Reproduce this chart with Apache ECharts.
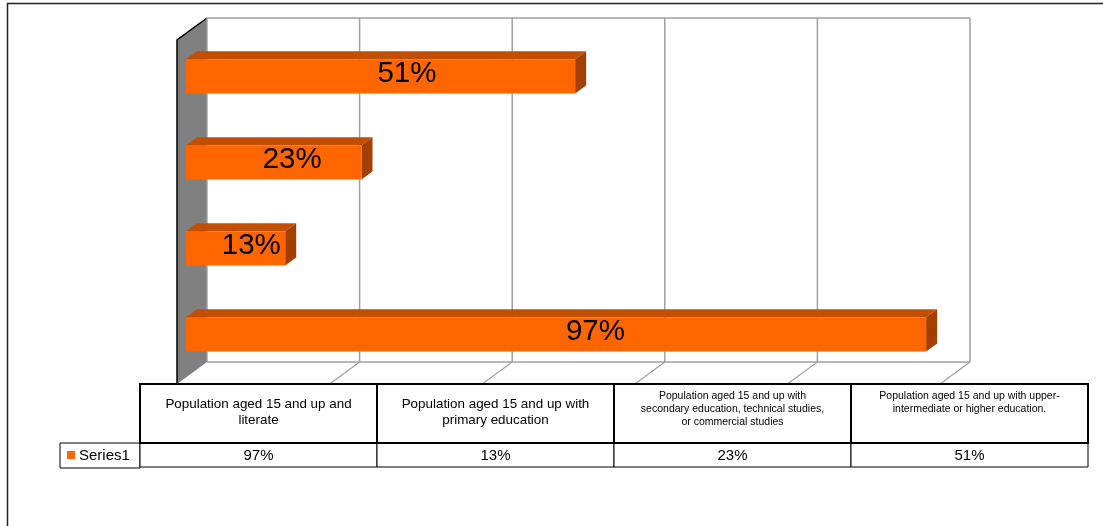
<!DOCTYPE html>
<html>
<head>
<meta charset="utf-8">
<script src="https://cdn.jsdelivr.net/npm/echarts@6/dist/echarts.min.js"></script>
<style>
html,body{margin:0;padding:0;background:#fff;}
#chart{width:1103px;height:526px;}
</style>
</head>
<body>
<div id="chart"></div>
<script>
// ---- data ----
const categories = [
  'Population aged 15 and up and\nliterate',
  'Population aged 15 and up with\nprimary education',
  'Population aged 15 and up with\nsecondary education, technical studies,\nor commercial studies',
  'Population aged 15 and up with upper-\nintermediate or higher education.'
];
const seriesName = 'Series1';
const values = [97, 13, 23, 51];
const ticks = [0, 20, 40, 60, 80, 100];

// ---- style / layout ----
const FONT = "'Liberation Sans', Arial, sans-serif";
const DX = 30, DY = -22;           // full depth offset of the 3D box
const F1 = 0.3, F2 = 0.667;        // bar depth fraction front/back
const C_FRONT = '#FF6600', C_TOP = '#C24F00', C_SIDE = '#A33F00';
const C_WALL = '#808080', C_GRID = '#A0A0A0';
const TBL = {labelX: 60, x: 140, colW: 237, hTop: 384, hBot: 443, vBot: 467};

const chart = echarts.init(document.getElementById('chart'), null, {renderer: 'canvas'});

function renderFrame(params, api) {
  const cs = params.coordSys;
  const top = cs.y, bot = cs.y + cs.height;
  const x = api.coord([api.value(0), 0])[0];
  const children = [];
  if (params.dataIndex === 0) {
    const xEnd = api.coord([ticks[ticks.length - 1], 0])[0];
    children.push({type: 'polygon', shape: {points: [[x, top], [x + DX, top + DY], [x + DX, bot + DY], [x, bot]]},
      style: {fill: C_WALL, stroke: null}});
    children.push({type: 'line', shape: {x1: x + DX, y1: top + DY, x2: xEnd + DX, y2: top + DY}, style: {stroke: C_GRID, lineWidth: 1.5}});
    children.push({type: 'line', shape: {x1: x + DX, y1: bot + DY, x2: xEnd + DX, y2: bot + DY}, style: {stroke: C_GRID, lineWidth: 1.5}});
    children.push({type: 'polyline', shape: {points: [[x, bot], [x, top], [x + DX, top + DY]]}, style: {stroke: '#000', lineWidth: 1.5, fill: null}});
  }
  children.push({type: 'line', shape: {x1: x + DX, y1: top + DY, x2: x + DX, y2: bot + DY}, style: {stroke: C_GRID, lineWidth: 1.5}});
  if (params.dataIndex !== 0) {
    children.push({type: 'line', shape: {x1: x + DX, y1: bot + DY, x2: x, y2: bot}, style: {stroke: C_GRID, lineWidth: 1.2}});
  }
  return {type: 'group', children};
}

function renderBar(params, api) {
  const v = api.value(0), c = api.value(1);
  const p0 = api.coord([0, c]);
  const p1 = api.coord([v, c]);
  const band = api.size([0, 1])[1];
  const h = band * 0.4;
  const ox = DX * F1, oy = DY * F1;
  const dx = DX * (F2 - F1), dy = DY * (F2 - F1);
  const xl = p0[0] + ox, xr = p1[0] + ox, yc = p0[1] + oy;
  const yt = yc - h / 2, yb = yc + h / 2;
  const lx = api.coord([v * 0.537, c])[0] + 21;
  return {type: 'group', children: [
    {type: 'polygon', shape: {points: [[xl, yt], [xr, yt], [xr + dx, yt + dy], [xl + dx, yt + dy]]}, style: {fill: C_TOP}},
    {type: 'polygon', shape: {points: [[xr, yt], [xr + dx, yt + dy], [xr + dx, yb + dy], [xr, yb]]}, style: {fill: C_SIDE}},
    {type: 'rect', shape: {x: xl, y: yt, width: xr - xl, height: h}, style: {fill: C_FRONT}},
    {type: 'text', x: lx, y: yc - 2.5, style: {text: v + '%', fill: '#000', font: '29.5px ' + FONT, textAlign: 'center', textVerticalAlign: 'middle'}}
  ]};
}

const graphics = [];
graphics.push({type: 'rect', shape: {x: 7.5, y: 3.5, width: 1200, height: 600}, style: {fill: null, stroke: '#222', lineWidth: 1.5}, z: 10});
graphics.push({type: 'rect', shape: {x: TBL.labelX, y: TBL.hBot, width: TBL.x - TBL.labelX, height: TBL.vBot - TBL.hBot + 1}, style: {fill: '#fff', stroke: '#000', lineWidth: 1}, z: 10});
graphics.push({type: 'rect', shape: {x: 67, y: 451, width: 8, height: 8}, style: {fill: C_FRONT}, z: 11});
graphics.push({type: 'text', x: 79, y: 456, style: {text: seriesName, font: '15px ' + FONT, fill: '#000', textVerticalAlign: 'middle'}, z: 11});
categories.forEach((cat, i) => {
  const x = TBL.x + i * TBL.colW;
  graphics.push({type: 'rect', shape: {x: x, y: TBL.hBot, width: TBL.colW, height: TBL.vBot - TBL.hBot}, style: {fill: '#fff', stroke: '#000', lineWidth: 1}, z: 10});
  graphics.push({type: 'text', x: x + TBL.colW / 2, y: (TBL.hBot + TBL.vBot) / 2 + 0.5, style: {text: values[i] + '%', font: '15px ' + FONT, fill: '#000', textAlign: 'center', textVerticalAlign: 'middle'}, z: 11});
});
categories.forEach((cat, i) => {
  const x = TBL.x + i * TBL.colW;
  graphics.push({type: 'rect', shape: {x: x, y: TBL.hTop, width: TBL.colW, height: TBL.hBot - TBL.hTop}, style: {fill: '#fff', stroke: '#000', lineWidth: 2}, z: 12});
  const small = cat.split('\n').length > 2 || cat.indexOf('upper-') >= 0;
  graphics.push({type: 'text', x: x + TBL.colW / 2, y: small ? 390 : 396,
    style: {text: cat, font: (small ? '10.5px ' : '13.4px ') + FONT, lineHeight: small ? 13 : 16, fill: '#000', textAlign: 'center', textVerticalAlign: 'top'}, z: 13});
});

chart.setOption({
  animation: false,
  backgroundColor: '#fff',
  grid: {left: 177, right: 163, top: 40, bottom: 142},
  xAxis: {type: 'value', min: 0, max: 100, interval: 20, show: false, splitLine: {show: false}},
  yAxis: {type: 'category', data: categories, show: false},
  series: [
    {type: 'custom', renderItem: renderFrame, data: ticks.map(t => [t]), encode: {x: 0}, z: 1, silent: true},
    {type: 'custom', name: seriesName, renderItem: renderBar, data: values.map((v, i) => [v, i]), encode: {x: 0, y: 1}, z: 2}
  ],
  graphic: graphics
});
</script>
</body>
</html>
